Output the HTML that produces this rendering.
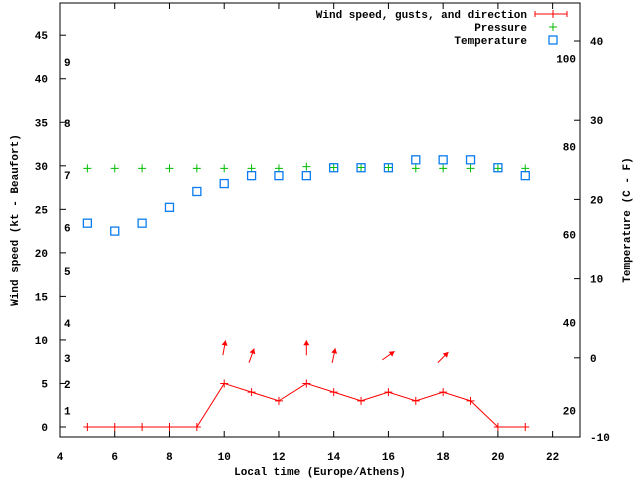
<!DOCTYPE html>
<html><head><meta charset="utf-8">
<style>
html,body{margin:0;padding:0;background:#fff;}
svg{display:block;}
text{font-family:"Liberation Mono","DejaVu Sans Mono",monospace;font-size:11px;font-weight:bold;fill:#000;}
</style></head>
<body>
<svg id="chart" width="640" height="480" viewBox="0 0 640 480" xmlns="http://www.w3.org/2000/svg">
<g id="axes"></g>
<g id="marks"></g>
<g id="legend"></g>
</svg>
<script>
const hours = [5,6,7,8,9,10,11,12,13,14,15,16,17,18,19,20,21];
const windKt = [0,0,0,0,0,5,4,3,5,4,3,4,3,4,3,0,0];
const pressure = [29.7,29.7,29.7,29.7,29.7,29.7,29.7,29.7,29.9,29.8,29.8,29.8,29.7,29.7,29.7,29.7,29.7];
const tempC = [17,16,17,19,21,22,23,23,23,24,24,24,25,25,25,24,23];
const arrowHours = [10,11,13,14,16,18];
const arrowKt = [9.1,8.2,9.1,8.2,8.2,8.0];
const arrowDir = [10,20,0,12,55,45];
const xTicks = [4,6,8,10,12,14,16,18,20,22];
const yTicks = [0,5,10,15,20,25,30,35,40,45];
const cTicks = [-10,0,10,20,30,40];
const fLabels = [20,40,60,80,100];
const bftKt = [1,4,7,11,17,22,28,34,41];

const L=60,R=580,T=3,B=437;
const xMin=4,xMax=23,yMin=-1.15,yMax=48.7,cMin=-10,cMax=44.8;
const X=v=>L+(v-xMin)/(xMax-xMin)*(R-L);
const Y=v=>B-(v-yMin)/(yMax-yMin)*(B-T);
const YC=v=>B-(v-cMin)/(cMax-cMin)*(B-T);
const NS='http://www.w3.org/2000/svg';
function mk(tag,attrs,parent){const e=document.createElementNS(NS,tag);for(const k in attrs)e.setAttribute(k,attrs[k]);parent.appendChild(e);return e;}
const ax=document.getElementById('axes'),mg=document.getElementById('marks'),lg=document.getElementById('legend');

let fr=mk('rect',{x:L,y:T,width:R-L,height:B-T,fill:'none',stroke:'#000','stroke-width':1},ax);


xTicks.forEach(v=>{
  const x=X(v);
  let t=mk('path',{d:`M${x},${B}v-6M${x},${T}v6`,stroke:'#000'},ax);
  
  
  let tx=mk('text',{x:x,y:B+23,'text-anchor':'middle'},ax);tx.textContent=v;
  
  
});
yTicks.forEach(v=>{
  const y=Y(v);
  let t=mk('path',{d:`M${L},${y}h6`,stroke:'#000'},ax);
  
  
  let tx=mk('text',{x:L-12,y:y+4,'text-anchor':'end'},ax);tx.textContent=v;
  
  
});
cTicks.forEach(v=>{
  const y=YC(v);
  let t=mk('path',{d:`M${R},${y}h-6`,stroke:'#000'},ax);
  
  
  let tx=mk('text',{x:R+10,y:y+4,'text-anchor':'start'},ax);tx.textContent=v;
  
  
});
fLabels.forEach(v=>{
  const y=YC((v-32)*5/9);
  let tx=mk('text',{x:R-4,y:y+4,'text-anchor':'end'},ax);tx.textContent=v;
  
  
});
bftKt.forEach((v,i)=>{
  let tx=mk('text',{x:64,y:Y(v)-4,'text-anchor':'start'},ax);tx.textContent=i+1;
  
  
});
let xt=mk('text',{x:320,y:475,'text-anchor':'middle'},ax);xt.textContent='Local time (Europe/Athens)';


let yt=mk('text',{x:0,y:0,'text-anchor':'middle',transform:'translate(18,220) rotate(-90)'},ax);yt.textContent='Wind speed (kt - Beaufort)';


let y2t=mk('text',{x:0,y:0,'text-anchor':'middle',transform:'translate(630,220) rotate(-90)'},ax);y2t.textContent='Temperature (C - F)';



// wind line
let pts=hours.map((h,i)=>X(h)+','+Y(windKt[i])).join(' ');
let wl=mk('polyline',{points:pts,fill:'none',stroke:'#f00','stroke-width':1},mg);


hours.forEach((h,i)=>{
  const x=X(h),y=Y(windKt[i]);
  let p=mk('path',{d:`M${x-4},${y}h8M${x},${y-4}v8`,stroke:'#f00'},mg);
  
  
  let g=mk('path',{d:`M${X(h)-4},${Y(pressure[i])}h8M${X(h)},${Y(pressure[i])-4}v8`,stroke:'#0b0'},mg);
  
  
  let s=mk('rect',{x:X(h)-4,y:YC(tempC[i])-4,width:8,height:8,fill:'none',stroke:'#0a7cf0','stroke-width':1.3},mg);
  
  
});
arrowHours.forEach((h,i)=>{
  const cx=X(h),cy=Y(arrowKt[i]),a=arrowDir[i]*Math.PI/180,len=15;
  const dx=Math.sin(a)*len/2,dy=-Math.cos(a)*len/2;
  const x1=cx-dx,y1=cy-dy,x2=cx+dx,y2=cy+dy;
  const ux=Math.sin(a),uy=-Math.cos(a);
  const hx1=x2-ux*5+uy*3,hy1=y2-uy*5-ux*3,hx2=x2-ux*5-uy*3,hy2=y2-uy*5+ux*3;
  let g=mk('g',{},mg);
  
  
  mk('line',{x1:x1,y1:y1,x2:x2,y2:y2,stroke:'#f00'},g);
  mk('polygon',{points:`${x2},${y2} ${hx1},${hy1} ${hx2},${hy2}`,fill:'#f00'},g);
});

// legend
const leg=[['Wind speed, gusts, and direction','wind'],['Pressure','pres'],['Temperature','temp']];
leg.forEach((e,i)=>{
  const y=14+i*13;
  let g=mk('g',{},lg);
  
  
  let t=mk('text',{x:527,y:y+4,'text-anchor':'end'},g);t.textContent=e[0];
  const cx=553;
  if(e[1]==='wind')mk('path',{d:`M535,${y}h32M535,${y-3}v6M567,${y-3}v6M${cx},${y-4}v8`,stroke:'#f00'},g);
  else if(e[1]==='pres')mk('path',{d:`M${cx-4},${y}h8M${cx},${y-4}v8`,stroke:'#0b0'},g);
  else mk('rect',{x:cx-4,y:y-4,width:8,height:8,fill:'none',stroke:'#0a7cf0','stroke-width':1.3},g);
});
</script>
</body></html>
